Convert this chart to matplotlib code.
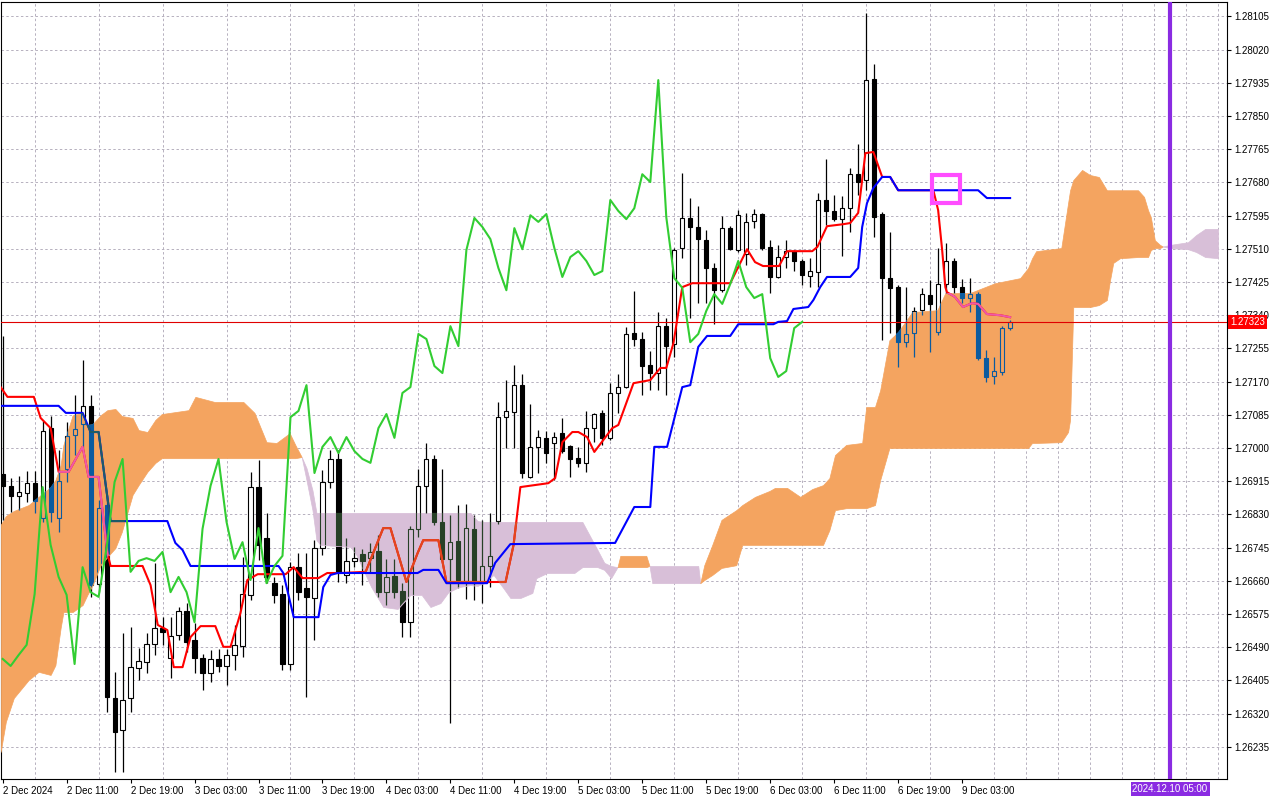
import numpy as np
import matplotlib
matplotlib.use("Agg")
import matplotlib.pyplot as plt
from matplotlib.path import Path
from matplotlib.patches import Rectangle

# ---------------------------------------------------------------------------
# GBPUSD H1 - Ichimoku (bar 0 = 2 Dec 2024 03:00)
# ---------------------------------------------------------------------------
opens = [1.26933, 1.26903, 1.26877, 1.26885, 1.26910, 1.26821, 1.27051, 1.26821, 1.26946, 1.27033,
         1.27061, 1.27108, 1.26652, 1.26854, 1.26360, 1.26278, 1.26360, 1.26437, 1.26452, 1.26498,
         1.26539, 1.26462, 1.26521, 1.26583, 1.26508, 1.26462, 1.26424, 1.26460, 1.26442, 1.26470,
         1.26493, 1.26624, 1.26900, 1.26770, 1.26654, 1.26626, 1.26447, 1.26695, 1.26642, 1.26616,
         1.26744, 1.26913, 1.26972, 1.26675, 1.26711, 1.26729, 1.26718, 1.26736, 1.26631, 1.26672,
         1.26634, 1.26554, 1.26793, 1.26903, 1.26972, 1.26811, 1.26716, 1.26762, 1.26660, 1.26793,
         1.26654, 1.26698, 1.26813, 1.27079, 1.27092, 1.27161, 1.26926, 1.27003, 1.27026, 1.27013,
         1.27038, 1.27005, 1.26974, 1.26962, 1.27051, 1.27090, 1.27026, 1.27141, 1.27156, 1.27294,
         1.27279, 1.27212, 1.27192, 1.27312, 1.27266, 1.27512, 1.27589, 1.27566, 1.27532, 1.27461,
         1.27404, 1.27563, 1.27507, 1.27497, 1.27581, 1.27599, 1.27515, 1.27438, 1.27489, 1.27504,
         1.27479, 1.27440, 1.27451, 1.27635, 1.27607, 1.27586, 1.27614, 1.27701, 1.27686, 1.27945,
         1.27599, 1.27435, 1.27412, 1.27271, 1.27294, 1.27353, 1.27392, 1.27297, 1.27420, 1.27479,
         1.27412, 1.27384, 1.27394, 1.27230, 1.27184, 1.27195, 1.27307]
highs = [1.27287, 1.26923, 1.26928, 1.26941, 1.26941, 1.27069, 1.27082, 1.26995, 1.27067, 1.27136,
         1.27225, 1.27136, 1.26867, 1.26880, 1.26427, 1.26526, 1.26542, 1.26488, 1.26526, 1.26706,
         1.26567, 1.26567, 1.26593, 1.26603, 1.26552, 1.26473, 1.26483, 1.26485, 1.26485, 1.26547,
         1.26721, 1.26939, 1.26969, 1.26834, 1.26670, 1.26649, 1.26708, 1.26731, 1.26731, 1.26764,
         1.26944, 1.26995, 1.26995, 1.26770, 1.26747, 1.26741, 1.26757, 1.26777, 1.26716, 1.26716,
         1.26654, 1.26800, 1.26946, 1.27013, 1.26982, 1.26946, 1.26828, 1.26854, 1.26857, 1.26828,
         1.26816, 1.26834, 1.27118, 1.27174, 1.27212, 1.27189, 1.27113, 1.27046, 1.27044, 1.27041,
         1.27077, 1.27008, 1.27003, 1.27095, 1.27090, 1.27097, 1.27166, 1.27189, 1.27310, 1.27402,
         1.27297, 1.27248, 1.27348, 1.27333, 1.27512, 1.27704, 1.27640, 1.27620, 1.27558, 1.27474,
         1.27594, 1.27568, 1.27609, 1.27602, 1.27612, 1.27602, 1.27532, 1.27520, 1.27532, 1.27507,
         1.27484, 1.27486, 1.27653, 1.27740, 1.27648, 1.27645, 1.27717, 1.27778, 1.28114, 1.27983,
         1.27604, 1.27553, 1.27417, 1.27412, 1.27361, 1.27410, 1.27430, 1.27512, 1.27525, 1.27486,
         1.27433, 1.27435, 1.27399, 1.27251, 1.27233, 1.27312, 1.27328]
lows = [1.26816, 1.26836, 1.26841, 1.26862, 1.26834, 1.26811, 1.26811, 1.26785, 1.26913, 1.26982,
        1.26990, 1.26619, 1.26631, 1.26324, 1.26171, 1.26171, 1.26324, 1.26406, 1.26424, 1.26470,
        1.26496, 1.26411, 1.26508, 1.26478, 1.26424, 1.26380, 1.26401, 1.26427, 1.26393, 1.26432,
        1.26465, 1.26611, 1.26713, 1.26654, 1.26603, 1.26432, 1.26432, 1.26611, 1.26363, 1.26508,
        1.26726, 1.26898, 1.26657, 1.26654, 1.26695, 1.26649, 1.26680, 1.26619, 1.26598, 1.26616,
        1.26516, 1.26516, 1.26772, 1.26834, 1.26803, 1.26708, 1.26296, 1.26642, 1.26613, 1.26611,
        1.26603, 1.26644, 1.26805, 1.27000, 1.27000, 1.26923, 1.26923, 1.26936, 1.26962, 1.26918,
        1.26987, 1.26926, 1.26951, 1.26939, 1.27015, 1.27008, 1.27020, 1.27090, 1.27154, 1.27261,
        1.27136, 1.27148, 1.27148, 1.27136, 1.27233, 1.27486, 1.27333, 1.27371, 1.27371, 1.27317,
        1.27399, 1.27507, 1.27502, 1.27468, 1.27563, 1.27507, 1.27397, 1.27435, 1.27461, 1.27453,
        1.27417, 1.27412, 1.27412, 1.27571, 1.27581, 1.27492, 1.27553, 1.27648, 1.27660, 1.27540,
        1.27276, 1.27294, 1.27207, 1.27259, 1.27233, 1.27340, 1.27246, 1.27289, 1.27397, 1.27397,
        1.27371, 1.27348, 1.27225, 1.27169, 1.27164, 1.27187, 1.27302]
closes = [1.26903, 1.26877, 1.26887, 1.26910, 1.26864, 1.27044, 1.26836, 1.26916, 1.27031, 1.27049,
          1.27108, 1.26649, 1.26846, 1.26363, 1.26273, 1.26355, 1.26439, 1.26455, 1.26498, 1.26539,
          1.26529, 1.26519, 1.26583, 1.26503, 1.26462, 1.26424, 1.26460, 1.26442, 1.26470, 1.26496,
          1.26626, 1.26900, 1.26752, 1.26670, 1.26624, 1.26447, 1.26695, 1.26631, 1.26619, 1.26744,
          1.26913, 1.26972, 1.26683, 1.26711, 1.26718, 1.26711, 1.26734, 1.26631, 1.26670, 1.26631,
          1.26554, 1.26793, 1.26903, 1.26972, 1.26811, 1.26716, 1.26759, 1.26662, 1.26795, 1.26654,
          1.26698, 1.26724, 1.27079, 1.27095, 1.27161, 1.26936, 1.27003, 1.27028, 1.26987, 1.27028,
          1.26992, 1.26972, 1.26962, 1.27051, 1.27087, 1.27026, 1.27141, 1.27156, 1.27292, 1.27279,
          1.27210, 1.27192, 1.27312, 1.27261, 1.27507, 1.27589, 1.27566, 1.27535, 1.27461, 1.27404,
          1.27563, 1.27509, 1.27596, 1.27579, 1.27599, 1.27512, 1.27438, 1.27489, 1.27504, 1.27479,
          1.27443, 1.27453, 1.27635, 1.27607, 1.27586, 1.27614, 1.27701, 1.27681, 1.27942, 1.27591,
          1.27435, 1.27410, 1.27271, 1.27292, 1.27351, 1.27394, 1.27369, 1.27420, 1.27479, 1.27412,
          1.27384, 1.27394, 1.27230, 1.27182, 1.27197, 1.27307, 1.27323]

CHIKOU_SHIFT = 26

# Tenkan-sen (red) vertices: bar position / price
tenkan_pos = [-0.25, 0.6, 3.9, 4.75, 6, 7, 8.25, 10, 10.75, 12, 13.1, 13.5, 17.5, 18.5, 19.4, 20.6,
              21.4, 22.5, 23.5, 24.75, 26.6, 27.6, 28.5, 29.75, 30.6, 31.9, 35.4, 36.4, 37.5, 39.5,
              40.6, 42.25, 45.4, 47.6, 48.5, 50.5, 51.9, 52.6, 54.5, 55.5, 62.9, 63.9, 64.75, 68.25,
              69.1, 70, 71.25, 72, 73.1, 74, 75.4, 76.25, 77, 78.9, 81, 82.25, 83, 83.9, 85, 86.25,
              91, 93.1, 94.1, 95.1, 97.1, 98.1, 101.25, 101.9, 103.1, 105.1, 106, 107, 107.9, 108.9,
              110, 111, 112, 116.4, 117, 117.5, 117.9, 118.1, 119.1, 120.1, 121.25, 122, 123.1,
              124.75, 126]
tenkan_val = [1.27156, 1.27131, 1.27131, 1.27077, 1.27051, 1.26939, 1.26939, 1.27003, 1.26926,
              1.26926, 1.26731, 1.26698, 1.26698, 1.26649, 1.26547, 1.26534, 1.26439, 1.26439,
              1.26516, 1.26544, 1.26544, 1.26491, 1.26491, 1.26578, 1.26662, 1.26677, 1.26677,
              1.26695, 1.26667, 1.26667, 1.26680, 1.26680, 1.26683, 1.26795, 1.26795, 1.26657,
              1.26731, 1.26764, 1.26764, 1.26657, 1.26657, 1.26752, 1.26900, 1.26910, 1.26923,
              1.27015, 1.27041, 1.27041, 1.27028, 1.26990, 1.27028, 1.27051, 1.27059, 1.27166,
              1.27174, 1.27205, 1.27205, 1.27269, 1.27412, 1.27422, 1.27422, 1.27509, 1.27476,
              1.27466, 1.27466, 1.27504, 1.27504, 1.27515, 1.27568, 1.27573, 1.27576, 1.27602,
              1.27755, 1.27758, 1.27694, 1.27694, 1.27660, 1.27660, 1.27609, 1.27507, 1.27412,
              1.27399, 1.27387, 1.27361, 1.27371, 1.27369, 1.27343, 1.27340, 1.27335]

# Kijun-sen (blue) vertices
kijun_pos = [-0.25, 7, 7.9, 10, 11, 12, 13.5, 20.6, 21, 21.6, 22.5, 23.5, 34.5, 35.1, 36.4, 39.5,
             40.1, 41, 41.9, 51.9, 52.6, 54.5, 55.5, 60.6, 61.6, 63.5, 76.6, 79, 81, 81.5, 83.1,
             85, 86, 86.4, 87, 88.1, 91, 92, 96.4, 97, 98.1, 98.9, 100.75, 101.4, 102.25, 103.1,
             106, 107, 107.5, 108.1, 108.9, 110, 111, 112, 122, 123.1, 126]
kijun_val = [1.27108, 1.27108, 1.27090, 1.27090, 1.27041, 1.27041, 1.26813, 1.26813, 1.26790,
             1.26757, 1.26739, 1.26698, 1.26698, 1.26680, 1.26567, 1.26567, 1.26644, 1.26675,
             1.26680, 1.26680, 1.26688, 1.26688, 1.26654, 1.26654, 1.26706, 1.26754, 1.26757,
             1.26849, 1.26849, 1.27003, 1.27003, 1.27156, 1.27161, 1.27200, 1.27259, 1.27287,
             1.27287, 1.27317, 1.27317, 1.27323, 1.27325, 1.27356, 1.27361, 1.27379, 1.27412,
             1.27438, 1.27438, 1.27461, 1.27566, 1.27627, 1.27666, 1.27694, 1.27694, 1.27660,
             1.27660, 1.27640, 1.27640]

# Kumo (cloud) outline, split in segments; bull = Senkou A above Senkou B
cloud_seg_len = [32, 32, 4, 4, 49, 6]
cloud_seg_bull = [True, False, True, False, True, False]
cloud_pos = [-0.25, 0.4, 1.4, 3.25, 4.5, 6, 6.6, 7.25, 7.6, 8.75, 10, 10.6, 11.25, 12.25, 13.1, 14.1,
             14.9, 16.25, 17, 18.1, 19.1, 19.9, 23.25, 24.1, 26.5, 30.1, 31.5, 33, 34.25, 35.9, 36.6,
             37.4,
             37.4, 38, 38.75, 39.25, 39.75, 43.5, 44.25, 46.1, 47.6, 49.4, 51, 52.4, 53.5, 54.75,
             55.75, 57.1, 58.5, 59.4, 60.1, 61.4, 62.6, 63.5, 64.75, 66.25, 66.75, 68.1, 71.5, 72.5,
             74.4, 75.25, 76.1, 76.9,
             76.9, 77.25, 80.5, 80.9,
             80.9, 81.25, 87, 87.25,
             87.25, 87.75, 88.75, 89.9, 91.75, 92.5, 94.1, 95.9, 96.6, 98.1, 99.75, 101.25, 102.6,
             103.4, 104.1, 105.5, 107.5, 108, 109.1, 109.75, 110.9, 112, 113.75, 116.9, 117.9, 121,
             124.1, 127.25, 128.25, 128.75, 129.25, 132.4, 133.25, 133.5, 133.9, 135, 136, 137.1,
             138.1, 138.5, 138.9, 139.75, 142, 142.75, 143.25, 143.6, 144.1, 144.75, 145.1,
             145.1, 146, 148.25, 149.25, 150.4, 152]
cloud_top = [1.26803, 1.26826, 1.26839, 1.26854, 1.26875, 1.26900, 1.26918, 1.26956, 1.27008,
             1.27084, 1.27090, 1.27059, 1.27061, 1.27084, 1.27097, 1.27100, 1.27082, 1.27077,
             1.27046, 1.27041, 1.27072, 1.27087, 1.27097, 1.27131, 1.27118, 1.27118, 1.27090,
             1.27015, 1.27013, 1.27038, 1.27008, 1.26977,
             1.26977, 1.26949, 1.26892, 1.26834, 1.26834, 1.26834, 1.26834, 1.26834, 1.26834,
             1.26834, 1.26834, 1.26834, 1.26834, 1.26834, 1.26834, 1.26834, 1.26834, 1.26813,
             1.26811, 1.26811, 1.26811, 1.26811, 1.26811, 1.26811, 1.26811, 1.26811, 1.26811,
             1.26811, 1.26739, 1.26706, 1.26698, 1.26695,
             1.26695, 1.26724, 1.26724, 1.26698,
             1.26698, 1.26698, 1.26698, 1.26654,
             1.26654, 1.26700, 1.26752, 1.26816, 1.26841, 1.26854, 1.26875, 1.26890, 1.26898,
             1.26898, 1.26875, 1.26895, 1.26905, 1.26923, 1.26982, 1.27008, 1.27013, 1.27105,
             1.27105, 1.27148, 1.27276, 1.27297, 1.27348, 1.27353, 1.27397, 1.27397, 1.27422,
             1.27435, 1.27461, 1.27486, 1.27504, 1.27512, 1.27627, 1.27660, 1.27686, 1.27712,
             1.27699, 1.27694, 1.27660, 1.27660, 1.27660, 1.27660, 1.27660, 1.27643, 1.27609,
             1.27591, 1.27532, 1.27520, 1.27516,
             1.27516, 1.27520, 1.27527, 1.27545, 1.27561, 1.27561]
cloud_bot = [1.26222, 1.26299, 1.26360, 1.26406, 1.26427, 1.26419, 1.26444, 1.26539, 1.26580,
             1.26580, 1.26598, 1.26624, 1.26649, 1.26700, 1.26721, 1.26744, 1.26785, 1.26880,
             1.26905, 1.26939, 1.26962, 1.26974, 1.26974, 1.26974, 1.26974, 1.26974, 1.26974,
             1.26974, 1.26974, 1.26974, 1.26974, 1.26977,
             1.26977, 1.26918, 1.26841, 1.26764, 1.26752, 1.26747, 1.26726, 1.26644, 1.26593,
             1.26588, 1.26624, 1.26624, 1.26593, 1.26603, 1.26631, 1.26644, 1.26649, 1.26647,
             1.26654, 1.26675, 1.26642, 1.26616, 1.26616, 1.26629, 1.26667, 1.26680, 1.26680,
             1.26695, 1.26695, 1.26688, 1.26667, 1.26695,
             1.26695, 1.26695, 1.26695, 1.26698,
             1.26698, 1.26654, 1.26654, 1.26654,
             1.26654, 1.26662, 1.26675, 1.26693, 1.26700, 1.26752, 1.26752, 1.26752, 1.26752,
             1.26752, 1.26752, 1.26752, 1.26752, 1.26790, 1.26841, 1.26846, 1.26846, 1.26846,
             1.26854, 1.26918, 1.27000, 1.27000, 1.27000, 1.27000, 1.27000, 1.27000, 1.27000,
             1.27000, 1.27000, 1.27013, 1.27013, 1.27015, 1.27041, 1.27072, 1.27361, 1.27361,
             1.27361, 1.27366, 1.27379, 1.27430, 1.27474, 1.27486, 1.27489, 1.27489, 1.27489,
             1.27507, 1.27512, 1.27512, 1.27516,
             1.27516, 1.27512, 1.27509, 1.27502, 1.27489, 1.27486]

# annotations
marker_bar = 146                       # 2024.12.10 05:00
marker_label = "2024.12.10 05:00"
box_bars = (116.25, 119.75)            # drawn rectangle
box_prices = (1.27627, 1.27699)

price_ticks = [1.26235, 1.26320, 1.26405, 1.26490, 1.26575, 1.26660, 1.26745, 1.26830, 1.26915,
               1.27000, 1.27085, 1.27170, 1.27255, 1.27340, 1.27425, 1.27510, 1.27595, 1.27680,
               1.27765, 1.27850, 1.27935, 1.28020, 1.28105]
time_ticks = [0, 8, 16, 24, 32, 40, 48, 56, 64, 72, 80, 88, 96, 104, 112, 120]
time_labels = ["2 Dec 2024", "2 Dec 11:00", "2 Dec 19:00", "3 Dec 03:00", "3 Dec 11:00",
               "3 Dec 19:00", "4 Dec 03:00", "4 Dec 11:00", "4 Dec 19:00", "5 Dec 03:00",
               "5 Dec 11:00", "5 Dec 19:00", "6 Dec 03:00", "6 Dec 11:00", "6 Dec 19:00",
               "9 Dec 03:00"]

# colours (MetaTrader defaults)
ORANGE = "#F4A460"
THISTLE = "#D8BFD8"
IN_ORANGE = "#0B5B9F"      # black seen through the orange kumo
IN_THISTLE = "#274027"     # black seen through the thistle kumo
GRID = "#B6B0BE"

plt.rcParams['font.family'] = ['Liberation Sans', 'DejaVu Sans']

o = np.array(opens); h = np.array(highs); l = np.array(lows); c = np.array(closes)
bars = np.arange(len(c))

fig = plt.figure(figsize=(12.8, 8), dpi=100)
ax = fig.add_axes([0.0005, 0.02625, 0.95809, 0.97175])
ax.set_xlim(-0.25, 153.125)
ax.set_ylim(1.261526, 1.281430)

BODY_W = 0.52
MIN_BODY = 0.00002


def draw_candles(dark, light, zorder, clip=None):
    up = c >= o
    top = np.maximum(o, c)
    bottom = np.minimum(o, c)
    height = np.maximum(top - bottom, MIN_BODY)
    arts = [ax.vlines(bars, top, h, colors=dark, lw=0.9, zorder=zorder),
            ax.vlines(bars, l, bottom, colors=dark, lw=0.9, zorder=zorder)]
    arts += list(ax.bar(bars[up], height[up], bottom=bottom[up], width=BODY_W,
                        facecolor=light, edgecolor=dark, linewidth=0.8, zorder=zorder + 0.1))
    arts += list(ax.bar(bars[~up], height[~up], bottom=bottom[~up], width=BODY_W,
                        facecolor=dark, edgecolor=dark, linewidth=0.8, zorder=zorder + 0.1))
    if clip is not None:
        for a in arts:
            a.set_clip_path(clip, ax.transData)


# candles below the cloud
draw_candles("black", "white", 2)

# cloud
cp = np.array(cloud_pos); ct = np.array(cloud_top); cb = np.array(cloud_bot)
orange_paths, thistle_paths = [], []
start = 0
for n, bull in zip(cloud_seg_len, cloud_seg_bull):
    sl = slice(start, start + n)
    col = ORANGE if bull else THISTLE
    pc = ax.fill_between(cp[sl], cb[sl], ct[sl], facecolor=col, edgecolor=col, lw=0.5, zorder=3)
    (orange_paths if bull else thistle_paths).extend(pc.get_paths())
    start += n
orange_clip = Path.make_compound_path(*orange_paths)
thistle_clip = Path.make_compound_path(*thistle_paths)

# candles seen through the cloud
draw_candles(IN_ORANGE, "none", 3.5, orange_clip)
draw_candles(IN_THISTLE, "none", 3.5, thistle_clip)

# bid line
ax.axhline(c[-1], color="#E00000", lw=0.8, zorder=4.6)

# lines
ax.plot(tenkan_pos, tenkan_val, color="#FF0000", lw=1.5, zorder=5)
t1, = ax.plot(tenkan_pos, tenkan_val, color="#EE5AA8", lw=1.5, zorder=5.05)
t1.set_clip_path(orange_clip, ax.transData)
t2, = ax.plot(tenkan_pos, tenkan_val, color="#E2471E", lw=1.5, zorder=5.05)
t2.set_clip_path(thistle_clip, ax.transData)
ax.plot(kijun_pos, kijun_val, color="#0000FF", lw=1.5, zorder=5.1)
k1, = ax.plot(kijun_pos, kijun_val, color="#1E5C66", lw=1.5, zorder=5.15)
k1.set_clip_path(orange_clip, ax.transData)
ax.plot(bars[:len(c) - CHIKOU_SHIFT], c[CHIKOU_SHIFT:], color="#32CD32", lw=1.5, zorder=5.2)

# drawn objects
ax.add_patch(Rectangle((box_bars[0], box_prices[0]), box_bars[1] - box_bars[0],
                       box_prices[1] - box_prices[0], fill=False, ec="#FF4DFF", lw=3, zorder=8))
ax.axvline(marker_bar, color="#8A2BE2", lw=3, zorder=8)

# grid and axes
ax.set_yticks(price_ticks)
ax.set_yticklabels([f"{p:.5f}" for p in price_ticks])
ax.set_xticks(time_ticks)
ax.set_xticklabels(time_labels)
ax.set_xticks(np.arange(0, 154, 4), minor=True)
for t in ax.get_xticklabels():
    t.set_horizontalalignment("left")
ax.yaxis.tick_right()
ax.tick_params(axis="y", which="major", length=3, width=0.8, pad=2, labelsize=7, colors="black")
ax.tick_params(axis="x", which="major", length=3, width=0.8, pad=2, labelsize=7, colors="black")
ax.tick_params(axis="x", which="minor", length=0)
ax.grid(True, axis="y", which="major", color=GRID, lw=0.7, linestyle=(0, (2.5, 2.5)), zorder=0)
ax.grid(True, axis="x", which="minor", color=GRID, lw=0.7, linestyle=(0, (2.5, 2.5)), zorder=0)
ax.set_axisbelow(True)
for s in ax.spines.values():
    s.set_linewidth(0.8)
    s.set_color("black")

# price and time labels
ax.annotate(f"{c[-1]:.5f}", xy=(1, c[-1]), xycoords=("axes fraction", "data"),
            xytext=(3, 0), textcoords="offset pixels", ha="left", va="center",
            fontsize=7, color="white", annotation_clip=False, zorder=10,
            bbox=dict(boxstyle="square,pad=0.2", fc="#FF0000", ec="none"))
ax.annotate(marker_label, xy=(marker_bar, 0), xycoords=("data", "axes fraction"),
            xytext=(0, -10), textcoords="offset pixels", ha="center", va="center",
            fontsize=7, color="white", annotation_clip=False, zorder=10,
            bbox=dict(boxstyle="square,pad=0.2", fc="#8A2BE2", ec="none"))

fig.savefig("out.png", dpi=100, facecolor="white")
